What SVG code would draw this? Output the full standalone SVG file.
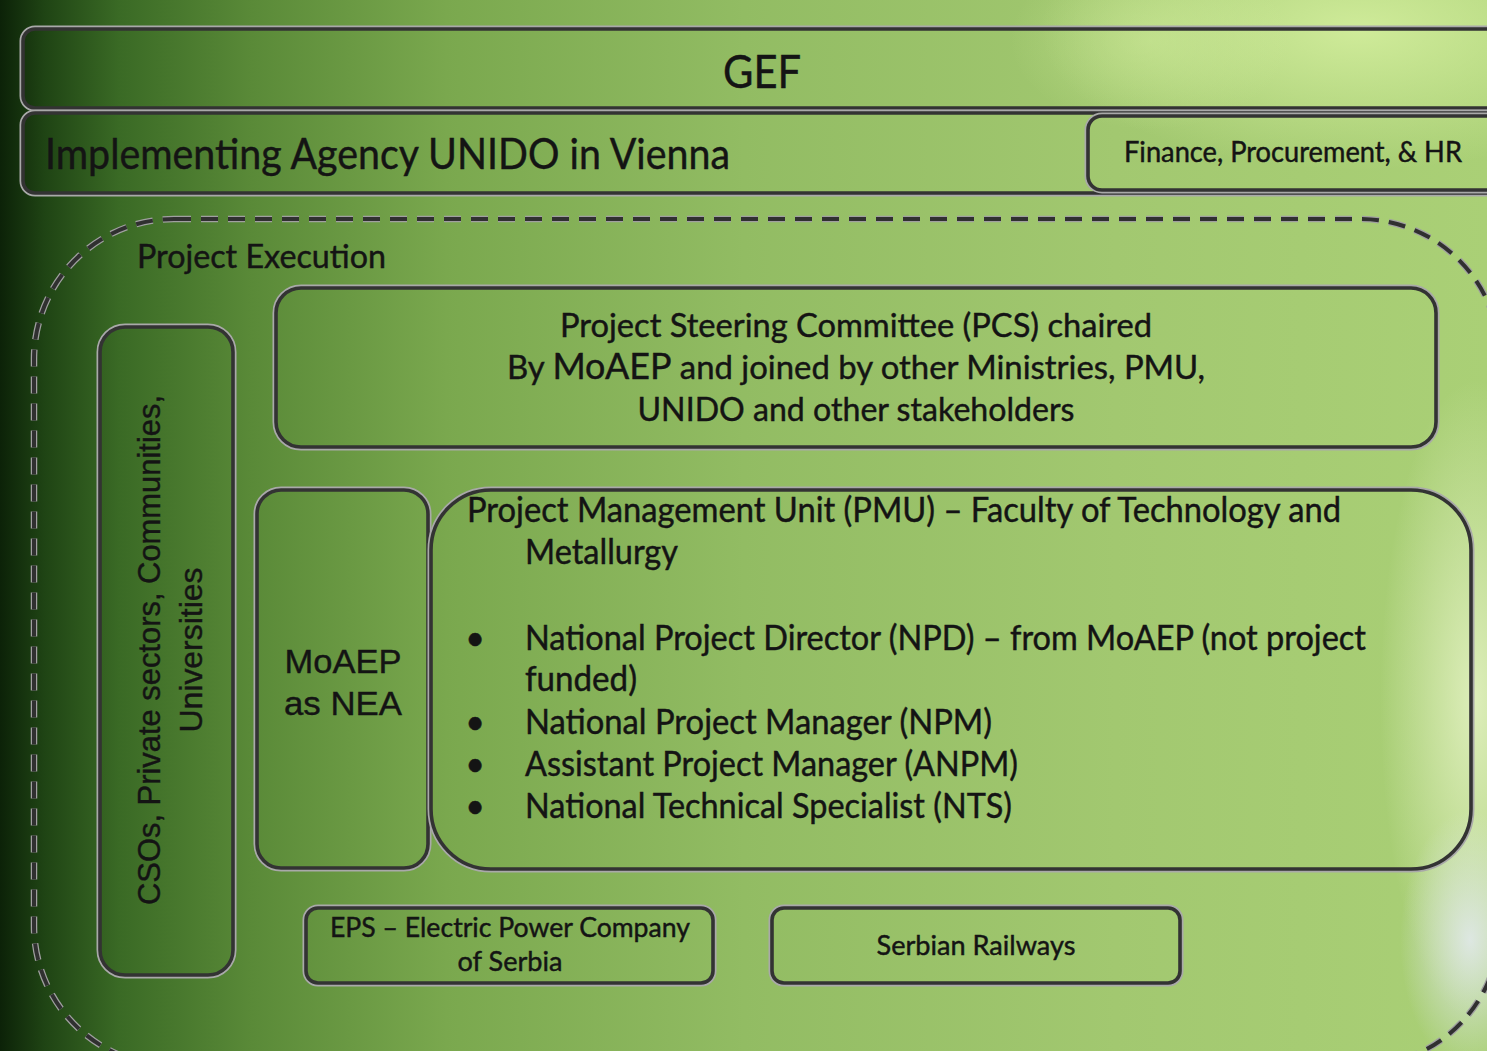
<svg xmlns="http://www.w3.org/2000/svg" width="1487" height="1051" viewBox="0 0 1487 1051">
  <defs>
    <linearGradient id="bg" x1="0" y1="0" x2="1" y2="0">
      <stop offset="0" stop-color="#0c2208"/>
      <stop offset="0.03" stop-color="#1f4414"/>
      <stop offset="0.08" stop-color="#3a6a25"/>
      <stop offset="0.17" stop-color="#5a8a38"/>
      <stop offset="0.3" stop-color="#7aa84e"/>
      <stop offset="0.5" stop-color="#92bc63"/>
      <stop offset="0.75" stop-color="#a2c870"/>
      <stop offset="1" stop-color="#aad076"/>
    </linearGradient>
    <radialGradient id="glowTop" cx="0.5" cy="0.5" r="0.5">
      <stop offset="0" stop-color="#d6f0a0" stop-opacity="0.85"/>
      <stop offset="1" stop-color="#d6f0a0" stop-opacity="0"/>
    </radialGradient>
    <radialGradient id="glowSide" cx="0.5" cy="0.5" r="0.5">
      <stop offset="0" stop-color="#e6f3c6" stop-opacity="0.85"/>
      <stop offset="1" stop-color="#e6f3c6" stop-opacity="0"/>
    </radialGradient>
    <radialGradient id="glowCool" cx="0.5" cy="0.5" r="0.5">
      <stop offset="0" stop-color="#e4eaf2" stop-opacity="0.85"/>
      <stop offset="1" stop-color="#e4eaf2" stop-opacity="0"/>
    </radialGradient>
    <style>
      .halo { fill: none; stroke: #a9a9a9; stroke-width: 3; }
      .frame { fill: none; stroke: #333333; stroke-width: 3.6; }
      .dhalo { fill: none; stroke: #a0a0a0; stroke-width: 6.5; stroke-dasharray: 17 10; }
      .dframe { fill: none; stroke: #303030; stroke-width: 4; stroke-dasharray: 17 10; }
      .t { font-family: Lato, "Open Sans", sans-serif; fill: #141414; stroke: #141414; stroke-width: 0.45; }
      .a { font-family: "Liberation Sans", Arial, sans-serif; fill: #141414; stroke: #141414; stroke-width: 0.4; }
      .mid { text-anchor: middle; }
    </style>
  </defs>

  <!-- backdrop -->
  <rect width="1487" height="1051" fill="url(#bg)"/>
  <ellipse cx="1360" cy="30" rx="320" ry="140" fill="url(#glowTop)"/>
  <ellipse cx="1150" cy="40" rx="140" ry="90" fill="url(#glowTop)" opacity="0.5"/>
  <ellipse cx="1475" cy="700" rx="95" ry="320" fill="url(#glowSide)"/>
  <ellipse cx="1470" cy="940" rx="70" ry="130" fill="url(#glowCool)"/>

  <!-- project execution boundary -->
  <g id="project-execution">
    <rect class="dhalo" x="34" y="219" width="1466" height="847" rx="140"/>
    <rect class="dframe" x="34" y="219" width="1466" height="847" rx="140"/>
    <text class="t" x="137" y="268" font-size="33" textLength="249" lengthAdjust="spacingAndGlyphs">Project Execution</text>
  </g>

  <g id="gef">
    <rect class="halo" x="21" y="27" width="1494" height="83" rx="14"/>
    <rect class="frame" x="23" y="29" width="1490" height="79" rx="12"/>
    <text class="t mid" x="762" y="88" font-size="46" textLength="78" lengthAdjust="spacingAndGlyphs">GEF</text>
  </g>

  <g id="unido">
    <rect class="halo" x="21" y="111" width="1494" height="84" rx="14"/>
    <rect class="frame" x="23" y="113" width="1490" height="80" rx="12"/>
    <text class="t" x="45" y="169" font-size="42" textLength="685" lengthAdjust="spacingAndGlyphs">Implementing Agency UNIDO in Vienna</text>
  </g>

  <g id="finance">
    <rect class="halo" x="1086" y="114" width="424" height="78" rx="16"/>
    <rect class="frame" x="1088" y="116" width="420" height="74" rx="14"/>
    <text class="t" x="1124" y="162" font-size="28" textLength="338" lengthAdjust="spacingAndGlyphs">Finance, Procurement, &amp; HR</text>
  </g>

  <g id="steering-committee">
    <rect class="halo" x="274" y="286" width="1164" height="163" rx="27"/>
    <rect class="frame" x="276" y="288" width="1160" height="159" rx="25"/>
    <text class="t mid" x="856" y="337" font-size="33" textLength="592" lengthAdjust="spacingAndGlyphs">Project Steering Committee (PCS) chaired</text>
    <text class="t mid" x="856" y="379" font-size="33" textLength="698" lengthAdjust="spacingAndGlyphs">By <tspan font-size="36">MoAEP</tspan> and joined by other Ministries, PMU,</text>
    <text class="t mid" x="856" y="421" font-size="33" textLength="437" lengthAdjust="spacingAndGlyphs">UNIDO and other stakeholders</text>
  </g>

  <g id="stakeholders">
    <rect class="halo" x="98" y="325" width="137" height="652" rx="27"/>
    <rect class="frame" x="100" y="327" width="133" height="648" rx="25"/>
    <text class="a mid" transform="translate(160,650) rotate(-90)" font-size="31" textLength="510" lengthAdjust="spacingAndGlyphs">CSOs, Private sectors, Communities,</text>
    <text class="a mid" transform="translate(202,650) rotate(-90)" font-size="31" textLength="165" lengthAdjust="spacingAndGlyphs">Universities</text>
  </g>

  <g id="moaep">
    <rect class="halo" x="255" y="488" width="175" height="382" rx="26"/>
    <rect class="frame" x="257" y="490" width="171" height="378" rx="24"/>
    <text class="a mid" x="343" y="673" font-size="34" textLength="117" lengthAdjust="spacingAndGlyphs">MoAEP</text>
    <text class="a mid" x="343" y="715" font-size="34" textLength="118" lengthAdjust="spacingAndGlyphs">as NEA</text>
  </g>

  <g id="pmu">
    <rect class="halo" x="429" y="488" width="1044" height="383" rx="62"/>
    <rect class="frame" x="431" y="490" width="1040" height="379" rx="60"/>
    <text class="t" x="467" y="522" font-size="34" textLength="874" lengthAdjust="spacingAndGlyphs">Project Management Unit (PMU) – Faculty of Technology and</text>
    <text class="t" x="525" y="564" font-size="34" textLength="153" lengthAdjust="spacingAndGlyphs">Metallurgy</text>
    <text class="t mid" x="475" y="650" font-size="34">•</text>
    <text class="t" x="525" y="650" font-size="34" textLength="841" lengthAdjust="spacingAndGlyphs">National Project Director (NPD) – from MoAEP (not project</text>
    <text class="t" x="525" y="691" font-size="34" textLength="112" lengthAdjust="spacingAndGlyphs">funded)</text>
    <text class="t mid" x="475" y="734" font-size="34">•</text>
    <text class="t" x="525" y="734" font-size="34" textLength="467" lengthAdjust="spacingAndGlyphs">National Project Manager (NPM)</text>
    <text class="t mid" x="475" y="776" font-size="34">•</text>
    <text class="t" x="525" y="776" font-size="34" textLength="493" lengthAdjust="spacingAndGlyphs">Assistant Project Manager (ANPM)</text>
    <text class="t mid" x="475" y="818" font-size="34">•</text>
    <text class="t" x="525" y="818" font-size="34" textLength="487" lengthAdjust="spacingAndGlyphs">National Technical Specialist (NTS)</text>
  </g>

  <g id="eps">
    <rect class="halo" x="304" y="906" width="411" height="79" rx="14"/>
    <rect class="frame" x="306" y="908" width="407" height="75" rx="12"/>
    <text class="t mid" x="510" y="937" font-size="27" textLength="360" lengthAdjust="spacingAndGlyphs">EPS – Electric Power Company</text>
    <text class="t mid" x="510" y="971" font-size="27" textLength="105" lengthAdjust="spacingAndGlyphs">of Serbia</text>
  </g>

  <g id="railways">
    <rect class="halo" x="770" y="906" width="412" height="79" rx="14"/>
    <rect class="frame" x="772" y="908" width="408" height="75" rx="12"/>
    <text class="t mid" x="976" y="955" font-size="27" textLength="199" lengthAdjust="spacingAndGlyphs">Serbian Railways</text>
  </g>

  <!-- no connectors are drawn between the boxes -->
  <g id="connectors"/>
</svg>
